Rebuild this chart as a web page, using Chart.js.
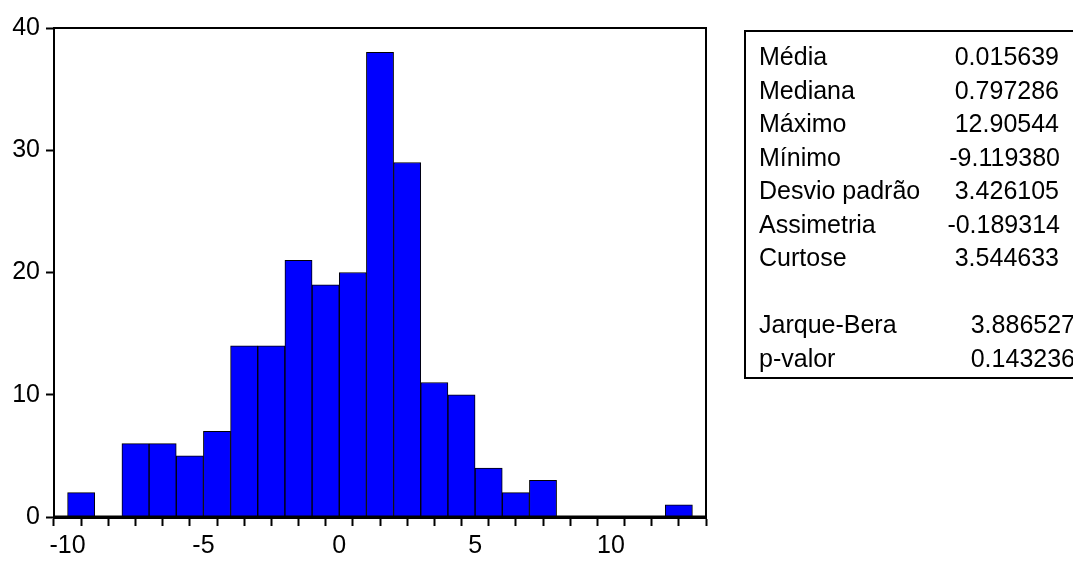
<!DOCTYPE html>
<html lang="pt">
<head>
  <meta charset="UTF-8">
  <title>Histograma dos resíduos</title>
  <script src="https://cdn.jsdelivr.net/npm/chart.js"></script>
  <style>
    body {
      margin: 0;
      background-color: #fff;
      overflow: hidden;
      font-family: "Liberation Sans", Arial, sans-serif;
    }
    #wrap {
      position: absolute;
      left: 0;
      top: 0;
      width: 1073px;
      height: 561px;
    }
    #stats {
      position: absolute;
      left: 744px;
      top: 30px;
      width: 360px;
      height: 349px;
      border: 2px solid #000;
      box-sizing: border-box;
      font-size: 25px;
      line-height: 1;
      color: #000;
    }
    #stats div {
      position: absolute;
      white-space: nowrap;
    }
    .lab { left: 13px; }
    .val { text-align: right; }
  </style>
</head>
<body>
  <div id="wrap">
    <canvas id="histChart" width="1073" height="561"></canvas>
  </div>
  <div id="stats"></div>

  <script>
    // bins of width 1, from -10 to 13 (centres)
    const binCenters = [-9.5, -8.5, -7.5, -6.5, -5.5, -4.5, -3.5, -2.5, -1.5, -0.5, 0.5, 1.5,
                        2.5, 3.5, 4.5, 5.5, 6.5, 7.5, 8.5, 9.5, 10.5, 11.5, 12.5];
    const counts = [2, 0, 6, 6, 5, 7, 14, 14, 21, 19, 20, 38,
                    29, 11, 10, 4, 2, 3, 0, 0, 0, 0, 1];
    const xTicks = [-10, -9, -8, -7, -6, -5, -4, -3, -2, -1, 0, 1, 2, 3, 4, 5, 6, 7, 8, 9, 10, 11, 12, 13];
    const yTicks = [0, 10, 20, 30, 40];

    const statLabels = ['Média', 'Mediana', 'Máximo', 'Mínimo', 'Desvio padrão', 'Assimetria', 'Curtose', '', 'Jarque-Bera', 'p-valor'];
    const statValues = ['0.015639', '0.797286', '12.90544', '-9.119380', '3.426105', '-0.189314', '3.544633', '', '3.886527', '0.143236'];
    const statRight = [1059, 1059, 1059, 1060, 1059, 1060, 1059, 0, 1075, 1075];

    // stats box
    const box = document.getElementById('stats');
    statLabels.forEach((lab, i) => {
      if (!lab) return;
      const top = 12 + i * 33.5;
      const l = document.createElement('div');
      l.className = 'lab';
      l.style.top = top + 'px';
      l.textContent = lab;
      box.appendChild(l);
      const v = document.createElement('div');
      v.className = 'val';
      v.style.top = top + 'px';
      v.style.right = (744 + 360 - statRight[i] - 2) + 'px';
      v.textContent = statValues[i];
      box.appendChild(v);
    });

    const framePlugin = {
      id: 'frame',
      afterDraw(chart) {
        const a = chart.chartArea;
        const c = chart.ctx;
        c.save();
        c.strokeStyle = '#000';
        c.lineWidth = 2;
        c.strokeRect(a.left, a.top, a.right - a.left, a.bottom - a.top);
        c.lineWidth = 3;
        c.beginPath();
        c.moveTo(a.left, a.bottom);
        c.lineTo(a.right, a.bottom);
        c.stroke();
        c.restore();
      }
    };

    const ctx = document.getElementById('histChart').getContext('2d');
    const histChart = new Chart(ctx, {
      type: 'bar',
      data: {
        datasets: [{
          data: binCenters.map((x, i) => ({ x: x, y: counts[i] })),
          backgroundColor: '#0000FF',
          borderColor: '#000',
          borderWidth: 1,
          barPercentage: 1,
          categoryPercentage: 1
        }]
      },
      options: {
        responsive: false,
        animation: false,
        layout: { padding: { left: 0, top: 28, right: 367, bottom: 0 } },
        plugins: { legend: { display: false }, tooltip: { enabled: false } },
        scales: {
          x: {
            type: 'linear',
            min: -10.5,
            max: 13.5,
            offset: false,
            afterBuildTicks: axis => { axis.ticks = xTicks.map(v => ({ value: v })); },
            afterFit: scale => { scale.height = 44; },
            grid: { drawOnChartArea: false, tickLength: 9, tickColor: '#000', tickWidth: 2 },
            border: { color: '#000', width: 3 },
            ticks: {
              autoSkip: false,
              maxRotation: 0,
              padding: 5,
              color: '#000',
              font: { family: '"Liberation Sans", Arial, sans-serif', size: 25 },
              callback: v => (v % 5 === 0 ? String(v) : '')
            }
          },
          y: {
            min: 0,
            max: 40,
            afterBuildTicks: axis => { axis.ticks = yTicks.map(v => ({ value: v })); },
            afterFit: scale => { scale.width = 54; },
            grid: { drawOnChartArea: false, tickLength: 8, tickColor: '#000', tickWidth: 2 },
            border: { color: '#000', width: 2 },
            ticks: {
              padding: 6,
              color: '#000',
              font: { family: '"Liberation Sans", Arial, sans-serif', size: 25 }
            }
          }
        }
      },
      plugins: [framePlugin]
    });
  </script>
</body>
</html>
